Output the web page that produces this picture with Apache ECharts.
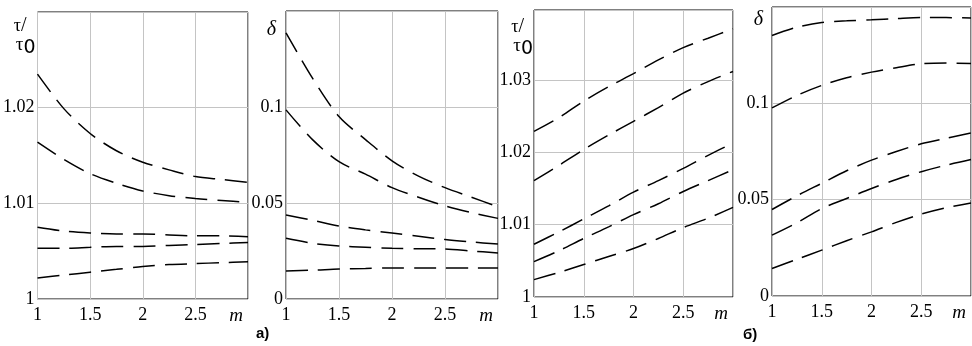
<!DOCTYPE html>
<html><head><meta charset="utf-8">
<script src="https://cdn.jsdelivr.net/npm/echarts@6/dist/echarts.min.js"></script>
<style>html,body{margin:0;padding:0;background:#fff}#c{width:972px;height:346px}</style>
</head><body><div id="c"></div>
<script>
// shared m-values
const mValues = [1, 1.25, 1.5, 1.75, 2, 2.25, 2.5, 2.75, 3];
const xTicks = [1, 1.5, 2, 2.5];

// panel a) left: tau/tau0
const a1 = [1.0235, 1.0199, 1.0173, 1.0155, 1.0143, 1.0135, 1.0128, 1.0125, 1.0122];
const a2 = [1.0164, 1.0146, 1.0131, 1.0121, 1.0113, 1.0108, 1.0105, 1.0103, 1.0101];
const a3 = [1.0075, 1.0071, 1.0069, 1.0068, 1.0068, 1.0067, 1.0066, 1.0066, 1.0065];
const a4 = [1.0053, 1.0053, 1.0054, 1.0055, 1.0055, 1.0056, 1.0057, 1.0058, 1.0059];
const a5 = [1.0022, 1.0025, 1.0028, 1.0031, 1.0034, 1.0036, 1.0037, 1.0038, 1.0039];

// panel a) right: delta
const b1 = [0.1386, 0.115, 0.095, 0.083, 0.072, 0.064, 0.058, 0.053, 0.048];
const b2 = [0.0985, 0.083, 0.0715, 0.065, 0.058, 0.053, 0.0485, 0.045, 0.042];
const b3 = [0.0438, 0.041, 0.038, 0.036, 0.0344, 0.0327, 0.031, 0.0297, 0.0286];
const b4 = [0.0316, 0.029, 0.0276, 0.027, 0.0264, 0.0262, 0.026, 0.025, 0.024];
const b5 = [0.0146, 0.015, 0.0156, 0.0159, 0.0162, 0.0162, 0.0162, 0.0162, 0.0162];

// panel б) left: tau/tau0
const c1 = [1.0229, 1.0248, 1.0271, 1.0291, 1.0309, 1.0328, 1.0345, 1.0358, 1.0371];
const c2 = [1.0161, 1.0182, 1.0204, 1.0224, 1.0243, 1.0262, 1.0282, 1.0298, 1.0312];
const c3 = [1.0073, 1.0090, 1.0108, 1.0126, 1.0145, 1.0161, 1.0178, 1.0196, 1.0213];
const c4 = [1.0049, 1.0064, 1.0081, 1.0097, 1.0114, 1.0129, 1.0146, 1.0161, 1.0176];
const c5 = [1.0024, 1.0034, 1.0045, 1.0056, 1.0067, 1.0081, 1.0096, 1.0109, 1.0124];

// panel б) right: delta
const d1 = [0.1352, 0.1395, 0.142, 0.1428, 0.1434, 0.144, 0.1445, 0.1445, 0.1443];
const d2 = [0.0976, 0.1041, 0.1093, 0.1133, 0.1162, 0.1185, 0.1205, 0.1209, 0.1207];
const d3 = [0.0449, 0.052, 0.0585, 0.065, 0.0705, 0.075, 0.079, 0.0818, 0.0846];
const d4 = [0.0316, 0.038, 0.0454, 0.0506, 0.0558, 0.0605, 0.0645, 0.0679, 0.0708];
const d5 = [0.0143, 0.019, 0.0238, 0.0287, 0.0333, 0.0382, 0.0425, 0.0458, 0.0483];

const panels = [
  {curves: [a1, a2, a3, a4, a5], yMin: 1, yMax: 1.03, yInt: 0.01},
  {curves: [b1, b2, b3, b4, b5], yMin: 0, yMax: 0.15, yInt: 0.05},
  {curves: [c1, c2, c3, c4, c5], yMin: 1, yMax: 1.0397, yInt: 0.01},
  {curves: [d1, d2, d3, d4, d5], yMin: 0, yMax: 0.15, yInt: 0.05}
];

const grids = [
  {left: 36, top: 12, width: 212, height: 287},
  {left: 286, top: 11, width: 212, height: 288},
  {left: 534, top: 10, width: 199, height: 287},
  {left: 772, top: 7, width: 199, height: 289}
];

const serif = 'Liberation Serif';
const tauName = '{t1|τ}{sl|/}\n{t2|τ}{z|0}';
const tauRich = {
  t1: {fontFamily: serif, fontStyle: 'normal', fontSize: 18, color: '#000', lineHeight: 16},
  sl: {fontFamily: serif, fontStyle: 'normal', fontSize: 20, color: '#000', lineHeight: 16, padding: [0, 9, 0, 0]},
  t2: {fontFamily: serif, fontStyle: 'normal', fontSize: 19, color: '#000', lineHeight: 22, padding: [0, 0, 0, 6]},
  z: {fontFamily: 'DejaVu Sans', fontStyle: 'normal', fontSize: 19, color: '#000', lineHeight: 22, padding: [6, 0, 0, 0]}
};
const names = [
  {name: tauName, gap: -6, pad: [0, 2, 0, 0]},
  {name: 'δ', gap: -9, pad: [0, 10, 0, 0]},
  {name: tauName, gap: -9, pad: [0, 1, 0, 0]},
  {name: 'δ', gap: -3, pad: [0, 9, 0, 0]}
];

const grid = grids.map(g => Object.assign({show: true, borderColor: '#000', borderWidth: 1, backgroundColor: '#fff'}, g));

const xAxis = panels.map((p, i) => ({
  type: 'value', gridIndex: i, min: 1, max: 3, interval: 0.5,
  axisLine: {show: false}, axisTick: {show: false},
  splitLine: {show: true, lineStyle: {color: '#c4c4c4', width: 1}},
  axisLabel: {
    show: true, margin: 7, color: '#000', fontFamily: serif, fontSize: 18,
    showMinLabel: true, showMaxLabel: true, alignMaxLabel: 'right',
    formatter: v => (v === 3 ? '{m|m}' : (xTicks.indexOf(v) >= 0 ? String(v) : '')),
    rich: {m: {fontFamily: serif, fontStyle: 'italic', fontSize: 19, color: '#000', padding: [0, 5, 0, 0]}}
  }
}));

const yAxis = panels.map((p, i) => ({
  type: 'value', gridIndex: i, min: p.yMin, max: p.yMax, interval: p.yInt,
  axisLine: {show: false}, axisTick: {show: false},
  splitLine: {show: true, lineStyle: {color: '#c4c4c4', width: 1}},
  axisLabel: {show: true, margin: 3, color: '#000', fontFamily: serif, fontSize: 18, showMaxLabel: false},
  name: names[i].name, nameLocation: 'end', nameGap: names[i].gap,
  nameTextStyle: {
    align: 'right', verticalAlign: 'top', padding: names[i].pad,
    fontFamily: serif, fontStyle: 'italic', fontSize: 20, color: '#000',
    rich: tauRich
  }
}));

const series = [];
panels.forEach((p, i) => {
  p.curves.forEach(arr => {
    series.push({
      type: 'line', xAxisIndex: i, yAxisIndex: i,
      data: mValues.map((m, k) => [m, arr[k]]),
      showSymbol: false, smooth: 0.3, silent: true,
      lineStyle: {color: '#000', width: 1.5, type: [22, 10]}
    });
  });
});

const chart = echarts.init(document.getElementById('c'), null, {renderer: 'canvas'});
chart.setOption({
  animation: false,
  backgroundColor: '#fff',
  title: [
    {text: 'а)', left: 256, top: 326, padding: 0, textStyle: {fontFamily: 'Liberation Sans', fontWeight: 'bold', fontSize: 15, color: '#000'}},
    {text: 'б)', left: 743, top: 327, padding: 0, textStyle: {fontFamily: 'Liberation Sans', fontWeight: 'bold', fontSize: 15, color: '#000'}}
  ],
  grid, xAxis, yAxis, series
});
</script>
</body></html>
